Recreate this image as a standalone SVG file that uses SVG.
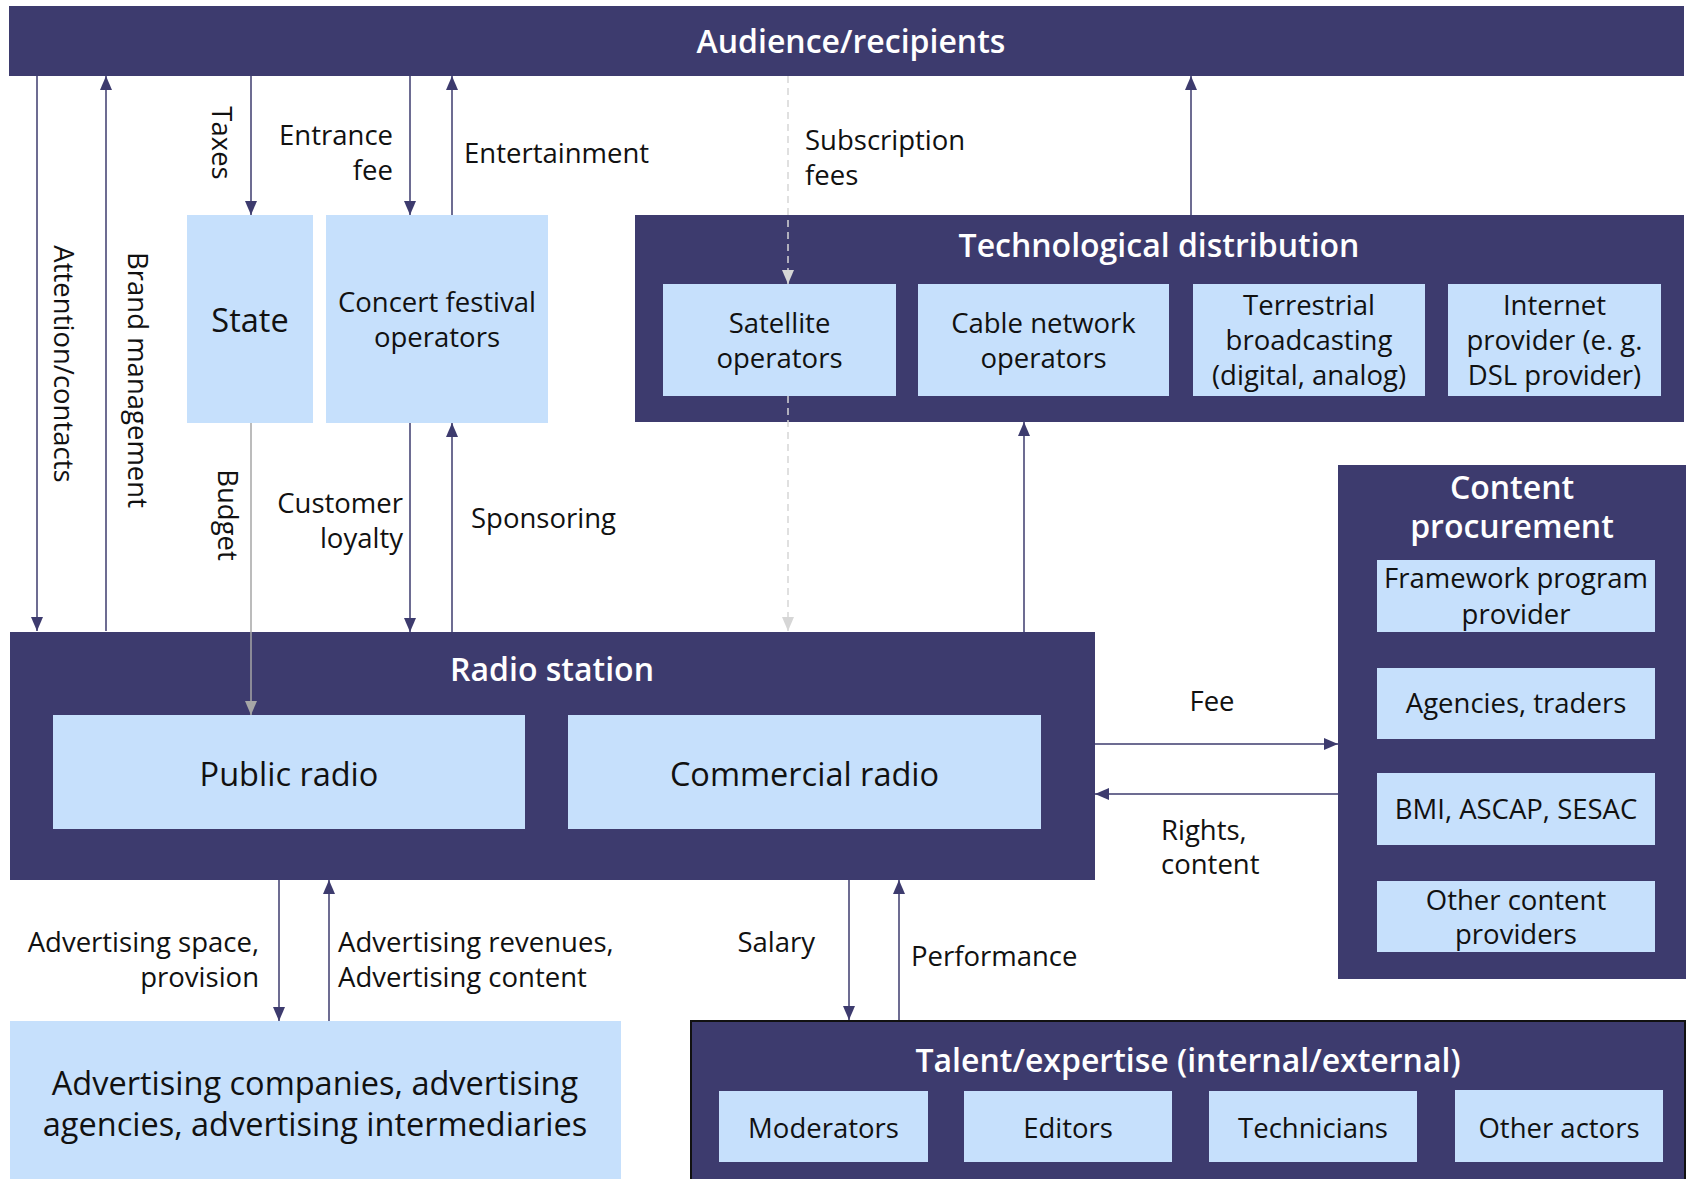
<svg xmlns="http://www.w3.org/2000/svg" width="1689" height="1179" viewBox="0 0 1689 1179">
<defs>
<style>
.dark{fill:#3D3B6E}
.light{fill:#C6E0FC}
.t{font-family:'Open Sans','Noto Sans','Liberation Sans',sans-serif;font-size:27.5px;fill:#111}
.big{font-size:32.5px}
.ttl{font-family:'Open Sans','Noto Sans','Liberation Sans',sans-serif;font-size:32px;font-weight:600;fill:#fff}
.m{text-anchor:middle}
.e{text-anchor:end}
.arr{stroke:#3D3B6E;stroke-width:1.5;fill:none;marker-end:url(#ah)}
.gray{stroke:#A6A6A6;stroke-width:1.5;fill:none;marker-end:url(#ahg)}
.dash{stroke:#D6D6D6;stroke-width:1.5;fill:none;stroke-dasharray:7 5;marker-end:url(#ahl)}
</style>
<marker id="ah" markerUnits="userSpaceOnUse" markerWidth="14" markerHeight="12" refX="14" refY="6" orient="auto"><path d="M0,0 L14,6 L0,12 z" fill="#3D3B6E"/></marker>
<marker id="ahg" markerUnits="userSpaceOnUse" markerWidth="14" markerHeight="12" refX="14" refY="6" orient="auto"><path d="M0,0 L14,6 L0,12 z" fill="#A6A6A6"/></marker>
<marker id="ahl" markerUnits="userSpaceOnUse" markerWidth="14" markerHeight="12" refX="14" refY="6" orient="auto"><path d="M0,0 L14,6 L0,12 z" fill="#D6D6D6"/></marker>
</defs>
<rect width="1689" height="1179" fill="#fff"/>

<g id="audience">
<rect class="dark" x="9" y="6" width="1675" height="70"/>
<text class="ttl m" x="851" y="53">Audience/recipients</text>
</g>

<g id="state">
<rect class="light" x="187" y="215" width="126" height="208"/>
<text class="t big m" x="250" y="332">State</text>
</g>

<g id="concert">
<rect class="light" x="326" y="215" width="222" height="208"/>
<text class="t m" x="437" y="312">Concert festival</text>
<text class="t m" x="437" y="347">operators</text>
</g>

<g id="techdist">
<rect class="dark" x="635" y="215" width="1049" height="207"/>
<text class="ttl m" x="1159" y="257">Technological distribution</text>
<g id="satellite">
<rect class="light" x="663" y="284" width="233" height="112"/>
<text class="t m" x="779.5" y="333">Satellite</text>
<text class="t m" x="779.5" y="368">operators</text>
</g>
<g id="cable">
<rect class="light" x="918" y="284" width="251" height="112"/>
<text class="t m" x="1043.5" y="333">Cable network</text>
<text class="t m" x="1043.5" y="368">operators</text>
</g>
<g id="terrestrial">
<rect class="light" x="1193" y="284" width="232" height="112"/>
<text class="t m" x="1309" y="315">Terrestrial</text>
<text class="t m" x="1309" y="350">broadcasting</text>
<text class="t m" x="1309" y="385">(digital, analog)</text>
</g>
<g id="internet">
<rect class="light" x="1448" y="284" width="213" height="112"/>
<text class="t m" x="1554.5" y="315">Internet</text>
<text class="t m" x="1554.5" y="350">provider (e. g.</text>
<text class="t m" x="1554.5" y="385">DSL provider)</text>
</g>
</g>

<g id="radio">
<rect class="dark" x="10" y="632" width="1085" height="248"/>
<text class="ttl m" x="552" y="681">Radio station</text>
<g id="public">
<rect class="light" x="53" y="715" width="472" height="114"/>
<text class="t big m" x="289" y="786">Public radio</text>
</g>
<g id="commercial">
<rect class="light" x="568" y="715" width="473" height="114"/>
<text class="t big m" x="804.5" y="786">Commercial radio</text>
</g>
</g>

<g id="content">
<rect class="dark" x="1338" y="465" width="348" height="514"/>
<text class="ttl m" x="1512" y="499">Content</text>
<text class="ttl m" x="1512" y="538">procurement</text>
<g id="framework">
<rect class="light" x="1377" y="560" width="278" height="72"/>
<text class="t m" x="1516" y="588">Framework program</text>
<text class="t m" x="1516" y="624">provider</text>
</g>
<g id="agencies">
<rect class="light" x="1377" y="668" width="278" height="71"/>
<text class="t m" x="1516" y="713">Agencies, traders</text>
</g>
<g id="bmi">
<rect class="light" x="1377" y="773" width="278" height="72"/>
<text class="t m" x="1516" y="819">BMI, ASCAP, SESAC</text>
</g>
<g id="othercontent">
<rect class="light" x="1377" y="881" width="278" height="71"/>
<text class="t m" x="1516" y="910">Other content</text>
<text class="t m" x="1516" y="944">providers</text>
</g>
</g>

<g id="advertising">
<rect class="light" x="10" y="1021" width="611" height="158"/>
<text class="t big m" x="315" y="1095">Advertising companies, advertising</text>
<text class="t big m" x="315" y="1136">agencies, advertising intermediaries</text>
</g>

<g id="talent">
<rect class="dark" x="691" y="1021" width="994" height="165" stroke="#111" stroke-width="2"/>
<text class="ttl m" x="1188" y="1072">Talent/expertise (internal/external)</text>
<g id="moderators">
<rect class="light" x="719" y="1091" width="209" height="71"/>
<text class="t m" x="823.5" y="1138">Moderators</text>
</g>
<g id="editors">
<rect class="light" x="964" y="1091" width="208" height="71"/>
<text class="t m" x="1068" y="1138">Editors</text>
</g>
<g id="technicians">
<rect class="light" x="1209" y="1091" width="208" height="71"/>
<text class="t m" x="1313" y="1138">Technicians</text>
</g>
<g id="otheractors">
<rect class="light" x="1455" y="1090" width="208" height="72"/>
<text class="t m" x="1559" y="1138">Other actors</text>
</g>
</g>

<g id="connectors">
<line class="arr" x1="37" y1="76" x2="37" y2="631"/>
<line class="arr" x1="106" y1="631" x2="106" y2="76"/>
<line class="arr" x1="251" y1="76" x2="251" y2="215"/>
<line class="arr" x1="410" y1="76" x2="410" y2="215"/>
<line class="arr" x1="452" y1="215" x2="452" y2="76"/>
<line class="dash" x1="788" y1="76" x2="788" y2="284"/>
<line class="dash" x1="788" y1="396" x2="788" y2="631"/>
<line class="arr" x1="1191" y1="215" x2="1191" y2="76"/>
<line class="arr" x1="1024" y1="632" x2="1024" y2="422"/>
<line class="gray" x1="251" y1="423" x2="251" y2="715"/>
<line class="arr" x1="410" y1="423" x2="410" y2="632"/>
<line class="arr" x1="452" y1="632" x2="452" y2="423"/>
<line class="arr" x1="1095" y1="744" x2="1338" y2="744"/>
<line class="arr" x1="1338" y1="794" x2="1095" y2="794"/>
<line class="arr" x1="279" y1="880" x2="279" y2="1021"/>
<line class="arr" x1="329" y1="1021" x2="329" y2="880"/>
<line class="arr" x1="849" y1="880" x2="849" y2="1020"/>
<line class="arr" x1="899" y1="1020" x2="899" y2="880"/>
</g>

<g id="labels">
<text class="t m" transform="translate(54,364) rotate(90)">Attention/contacts</text>
<text class="t m" transform="translate(128,380) rotate(90)">Brand management</text>
<text class="t m" transform="translate(212,143) rotate(90)">Taxes</text>
<text class="t m" transform="translate(218,515) rotate(90)">Budget</text>
<text class="t e" x="393" y="145">Entrance</text>
<text class="t e" x="393" y="180">fee</text>
<text class="t" x="464" y="163">Entertainment</text>
<text class="t" x="805" y="150">Subscription</text>
<text class="t" x="805" y="185">fees</text>
<text class="t e" x="403" y="513">Customer</text>
<text class="t e" x="403" y="548">loyalty</text>
<text class="t" x="471" y="528">Sponsoring</text>
<text class="t m" x="1212" y="711">Fee</text>
<text class="t" x="1161" y="840">Rights,</text>
<text class="t" x="1161" y="874">content</text>
<text class="t e" x="259" y="952">Advertising space,</text>
<text class="t e" x="259" y="987">provision</text>
<text class="t" x="338" y="952">Advertising revenues,</text>
<text class="t" x="338" y="987">Advertising content</text>
<text class="t e" x="815" y="952">Salary</text>
<text class="t" x="911" y="966">Performance</text>
</g>
</svg>
